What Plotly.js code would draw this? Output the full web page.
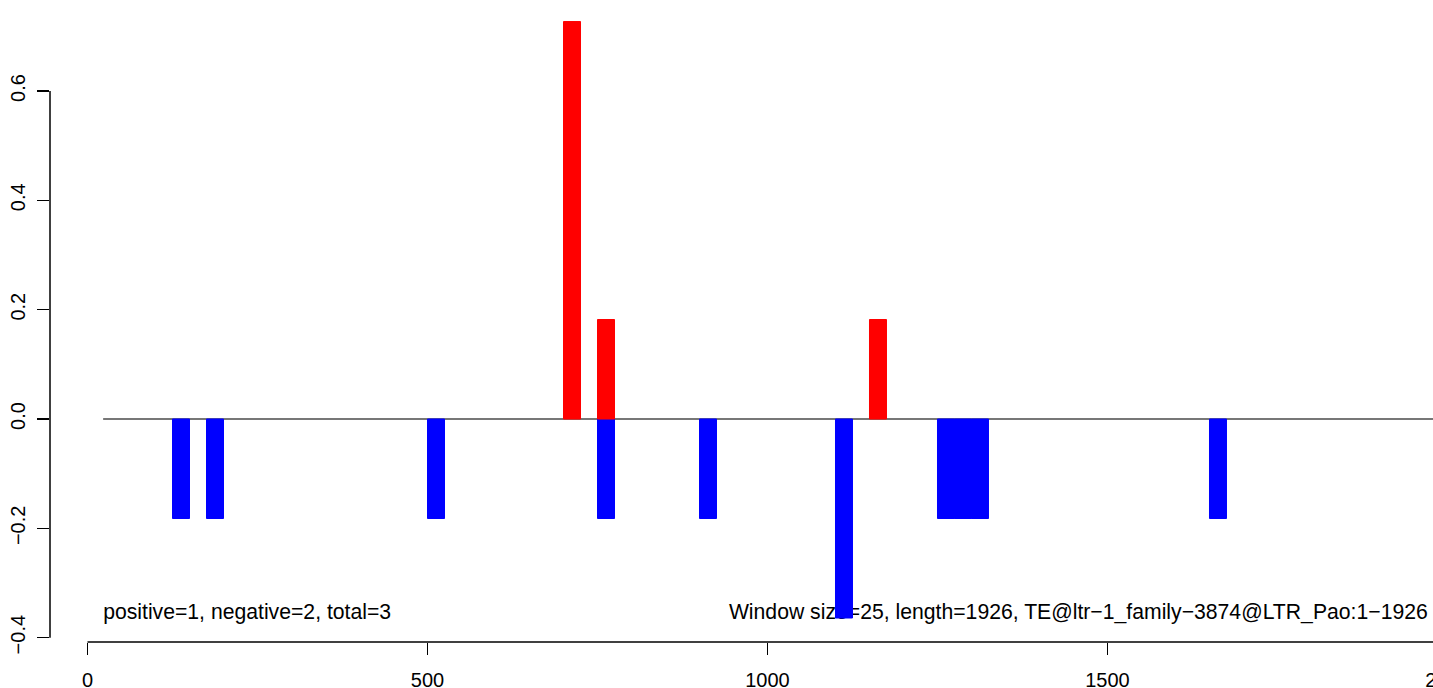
<!DOCTYPE html>
<html>
<head>
<meta charset="utf-8">
<script src="https://cdn.plot.ly/plotly-3.0.1.min.js"></script>
<style>
html, body { margin: 0; padding: 0; overflow: hidden; background: #fff; }
#chart { width: 1460px; height: 688px; }
</style>
</head>
<body>
<div id="chart"></div>
<script>
// ---- data ----
const windowSize = 25;
const posStarts = [700, 750, 1150];
const posValues = [0.727, 0.182, 0.182];
const negStarts = [125, 175, 500, 750, 900, 1100, 1250, 1275, 1300, 1650];
const negValues = [-0.182, -0.182, -0.182, -0.182, -0.182, -0.364, -0.182, -0.182, -0.182, -0.182];
const baselineX = [23, 2010];
const baselineY = [0, 0];
const xTickVals = [0, 500, 1000, 1500, 2000];
const yTickVals = [-0.4, -0.2, 0.0, 0.2, 0.4, 0.6];
const yTickText = ['\u22120.4', '\u22120.2', '0.0', '0.2', '0.4', '0.6'];
const leftLabel = 'positive=1, negative=2, total=3';
const rightLabel = 'Window size=25, length=1926, TE@ltr\u22121_family\u22123874@LTR_Pao:1\u22121926';

const FONT = 'Liberation Sans, Arial, Helvetica, sans-serif';

const traces = [
  {
    type: 'scatter', mode: 'lines', x: baselineX, y: baselineY,
    line: { color: '#4a4a4a', width: 1.5 }, xaxis: 'x', yaxis: 'y', hoverinfo: 'skip'
  },
  {
    type: 'scatter', mode: 'text', x: [baselineX[0]], y: [-0.356], text: [leftLabel],
    textposition: 'middle right', textfont: { family: FONT, size: 21.2, color: '#000' },
    xaxis: 'x', yaxis: 'y', hoverinfo: 'skip'
  },
  {
    type: 'scatter', mode: 'text', x: [1971], y: [-0.356], text: [rightLabel],
    textposition: 'middle left', textfont: { family: FONT, size: 21.2, color: '#000' },
    xaxis: 'x', yaxis: 'y', hoverinfo: 'skip'
  },
  {
    type: 'bar', x: negStarts, y: negValues, width: windowSize, offset: 0,
    marker: { color: '#0000ff', line: { color: '#0000ff', width: 1 } },
    xaxis: 'x2', yaxis: 'y2'
  },
  {
    type: 'bar', x: posStarts, y: posValues, width: windowSize, offset: 0,
    marker: { color: '#ff0000', line: { color: '#ff0000', width: 1 } },
    xaxis: 'x2', yaxis: 'y2'
  }
];

const xRange = [-55.15, 2018.4];
const yRange = [-0.4079, 0.7664];

const layout = {
  width: 1460, height: 688,
  margin: { l: 50, r: 0, t: 0, b: 46, pad: 0 },
  paper_bgcolor: '#fff', plot_bgcolor: '#fff',
  showlegend: false,
  barmode: 'overlay',
  font: { family: FONT, size: 20, color: '#000' },
  xaxis: {
    range: xRange, showgrid: false, zeroline: false, showline: false,
    ticks: 'outside', ticklen: 12, tickwidth: 1.5, tickcolor: '#000',
    tickvals: xTickVals, ticktext: xTickVals.map(String),
    tickfont: { family: FONT, size: 20, color: '#000' },
    ticklabelstandoff: 8, ticklabeloverflow: 'allow'
  },
  yaxis: {
    range: yRange, showgrid: false, zeroline: false, showline: false,
    ticks: 'outside', ticklen: 12, tickwidth: 1.5, tickcolor: '#000',
    tickvals: yTickVals, ticktext: yTickText, tickangle: -90,
    tickfont: { family: FONT, size: 20, color: '#000' },
    ticklabelstandoff: 4, ticklabeloverflow: 'allow'
  },
  xaxis2: { overlaying: 'x', matches: 'x', visible: false, range: xRange },
  yaxis2: { overlaying: 'y', matches: 'y', visible: false, range: yRange },
  shapes: [
    { type: 'line', xref: 'x', yref: 'paper', x0: xTickVals[0], x1: xTickVals[xTickVals.length - 1], y0: 0, y1: 0,
      line: { color: '#000', width: 1.5 } },
    { type: 'line', xref: 'paper', yref: 'y', x0: 0, x1: 0, y0: yTickVals[0], y1: yTickVals[yTickVals.length - 1],
      line: { color: '#000', width: 1.5 } }
  ]
};

Plotly.newPlot('chart', traces, layout, { displayModeBar: false, staticPlot: true });
</script>
</body>
</html>
